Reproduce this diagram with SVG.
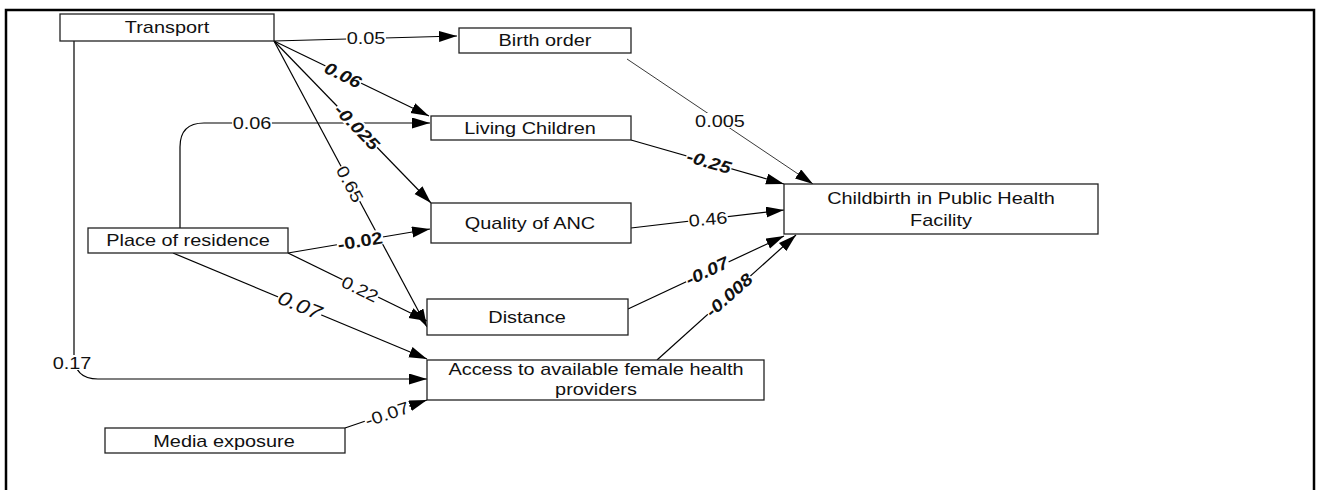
<svg xmlns="http://www.w3.org/2000/svg" width="1320" height="490" viewBox="0 0 1320 490">
  <defs>
    <marker id="arrow" markerUnits="userSpaceOnUse" markerWidth="19" markerHeight="12" refX="18" refY="5.5" orient="auto">
      <path d="M0,0 L18,5.5 L0,11 z" fill="#000"/>
    </marker>
    <style>
      .box { fill: #fff; stroke: #222; stroke-width: 1.3; }
      .lbl { font-family: "Liberation Sans", Arial, sans-serif; font-size: 17px; fill: #111; text-anchor: middle; }
      .edge { fill: none; stroke: #000; stroke-width: 1.2; marker-end: url(#arrow); }
      .thin { stroke: #222; stroke-width: 0.9; }
      .w { font-family: "Liberation Sans", Arial, sans-serif; font-size: 17px; fill: #111; text-anchor: middle; }
      .bi { font-weight: bold; font-style: italic; }
      .b { font-weight: bold; }
      .it { font-style: italic; }
      .bg { fill: #fff; }
    </style>
  </defs>

  <rect width="1320" height="490" fill="#fff"/>
  <!-- outer frame -->
  <rect x="6" y="10" width="1308" height="500" fill="none" stroke="#000" stroke-width="2.5"/>

  <!-- connectors -->
  <g id="connectors">
    <path class="edge" d="M274,41 L457,36"/>
    <path class="edge" d="M274,41 L429,116"/>
    <path class="edge" d="M274,41 L431,203"/>
    <path class="edge" d="M274,41 L427,327"/>
    <path class="edge" d="M74,41 V355 Q74,379 98,379 H427"/>
    <path class="edge" d="M180,228 V147 Q180,123 204,123 H430"/>
    <path class="edge" d="M288,253 L430,229"/>
    <path class="edge" d="M288,253 L427,321"/>
    <path class="edge" d="M173,253 L427,359"/>
    <path class="edge" d="M345,428 L427,400"/>
    <path class="edge thin" d="M627,59 L813,184"/>
    <path class="edge" d="M631,140 L784,184"/>
    <path class="edge" d="M631,228 L784,210"/>
    <path class="edge" d="M628,309 L784,236"/>
    <path class="edge" d="M657,360 L796,235"/>

    <!-- path coefficients -->
    <g transform="translate(366,38) scale(1.17,1)"><rect class="bg" x="-17" y="-8" width="34" height="15"/><text class="w" y="6">0.05</text></g>
    <g transform="translate(343,75) rotate(25.8) scale(1.17,1)"><rect class="bg" x="-17" y="-8" width="34" height="15"/><text class="w bi" y="6">0.06</text></g>
    <g transform="translate(357,127) rotate(45.9) scale(1.17,1)"><rect class="bg" x="-24.5" y="-8" width="49" height="15"/><text class="w bi" y="6">-0.025</text></g>
    <g transform="translate(350,184) rotate(61.9) scale(1.17,1)"><rect class="bg" x="-17" y="-8" width="34" height="15"/><text class="w" y="6">0.65</text></g>
    <g transform="translate(252,123) scale(1.17,1)"><rect class="bg" x="-17" y="-8" width="34" height="15"/><text class="w" y="6">0.06</text></g>
    <g transform="translate(360,241) rotate(-9.6) scale(1.17,1)"><rect class="bg" x="-20" y="-8" width="40" height="15"/><text class="w b" y="6">-0.02</text></g>
    <g transform="translate(360,289) rotate(26.1) scale(1.17,1)"><rect class="bg" x="-17" y="-8" width="34" height="15"/><text class="w" y="6">0.22</text></g>
    <g transform="translate(300,305) rotate(22.7) scale(1.17,1)"><rect class="bg" x="-20" y="-9" width="40" height="17"/><text class="w it" y="7" style="font-size:20px">0.07</text></g>
    <g transform="translate(72,363) scale(1.17,1)"><rect class="bg" x="-17" y="-8" width="34" height="15"/><text class="w" y="6">0.17</text></g>
    <g transform="translate(387,414) rotate(-18.9) scale(1.17,1)"><rect class="bg" x="-20" y="-8" width="40" height="15"/><text class="w" y="6">-0.07</text></g>
    <g transform="translate(720,121) scale(1.17,1)"><rect class="bg" x="-22" y="-8" width="44" height="15"/><text class="w" y="6">0.005</text></g>
    <g transform="translate(709,162) rotate(16) scale(1.17,1)"><rect class="bg" x="-20" y="-8" width="40" height="15"/><text class="w bi" y="6">-0.25</text></g>
    <g transform="translate(708,219) rotate(-5) scale(1.17,1)"><rect class="bg" x="-17" y="-8" width="34" height="15"/><text class="w" y="6">0.46</text></g>
    <g transform="translate(707,271) rotate(-25) scale(1.17,1)"><rect class="bg" x="-20" y="-8" width="40" height="15"/><text class="w bi" y="6">-0.07</text></g>
    <g transform="translate(729,295) rotate(-41.5) scale(1.17,1)"><rect class="bg" x="-24.5" y="-8" width="49" height="15"/><text class="w bi" y="6">-0.008</text></g>
  </g>

  <!-- nodes -->
  <g id="transport">
    <rect class="box" x="60" y="14" width="214" height="27"/>
    <text class="lbl" transform="translate(167,33) scale(1.17,1)">Transport</text>
  </g>
  <g id="birth-order">
    <rect class="box" x="459" y="28" width="172" height="25"/>
    <text class="lbl" transform="translate(545,46) scale(1.17,1)">Birth order</text>
  </g>
  <g id="living-children">
    <rect class="box" x="431" y="116" width="200" height="24"/>
    <text class="lbl" transform="translate(530,134) scale(1.17,1)">Living Children</text>
  </g>
  <g id="quality-anc">
    <rect class="box" x="431" y="203" width="200" height="40"/>
    <text class="lbl" transform="translate(530,229) scale(1.17,1)">Quality of ANC</text>
  </g>
  <g id="distance">
    <rect class="box" x="427" y="299" width="201" height="36"/>
    <text class="lbl" transform="translate(527,323) scale(1.17,1)">Distance</text>
  </g>
  <g id="access">
    <rect class="box" x="427" y="360" width="337" height="40"/>
    <text class="lbl" transform="translate(596,375) scale(1.17,1)">Access to available female health</text>
    <text class="lbl" transform="translate(596,395) scale(1.17,1)">providers</text>
  </g>
  <g id="place-of-residence">
    <rect class="box" x="88" y="228" width="200" height="25"/>
    <text class="lbl" transform="translate(188,246) scale(1.17,1)">Place of residence</text>
  </g>
  <g id="media-exposure">
    <rect class="box" x="105" y="428" width="240" height="25"/>
    <text class="lbl" transform="translate(224,447) scale(1.17,1)">Media exposure</text>
  </g>
  <g id="childbirth">
    <rect class="box" x="784" y="184" width="314" height="50"/>
    <text class="lbl" transform="translate(941,204) scale(1.17,1)">Childbirth in Public Health</text>
    <text class="lbl" transform="translate(941,226) scale(1.17,1)">Facility</text>
  </g>
</svg>
